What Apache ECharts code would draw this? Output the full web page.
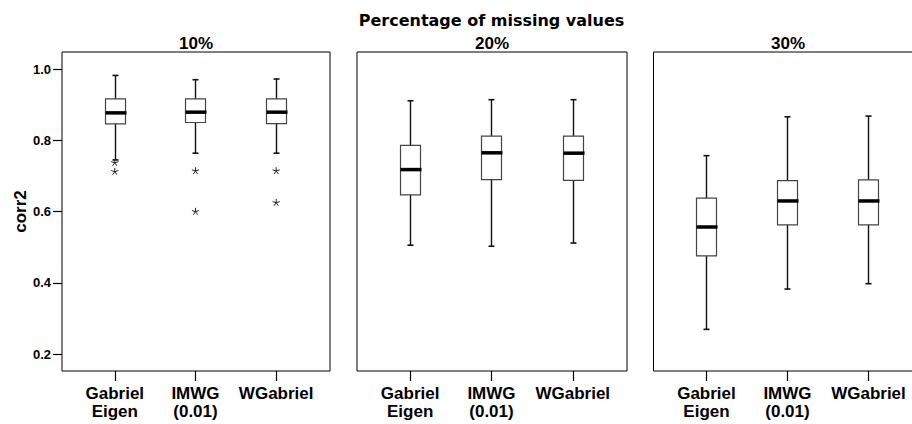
<!DOCTYPE html>
<html>
<head>
<meta charset="utf-8">
<script src="https://cdn.jsdelivr.net/npm/echarts@6/dist/echarts.min.js"></script>
<style>
html,body{margin:0;padding:0;background:#fff;}
#chart{width:912px;height:424px;}
</style>
</head>
<body>
<div id="chart"></div>
<script>
// ---- data ----
const mainTitle = 'Percentage of missing values';
const panels = ['10%', '20%', '30%'];
const categories = ['Gabriel\nEigen', 'IMWG\n(0.01)', 'WGabriel'];
const yTicks = [0.2, 0.4, 0.6, 0.8, 1.0];
const yName = 'corr2';
// [min, Q1, median, Q3, max] per category
const stats10 = [
  [0.745, 0.846, 0.877, 0.916, 0.982],
  [0.764, 0.850, 0.879, 0.916, 0.970],
  [0.764, 0.847, 0.879, 0.916, 0.972]
];
const stats20 = [
  [0.506, 0.647, 0.718, 0.786, 0.911],
  [0.503, 0.690, 0.765, 0.812, 0.914],
  [0.512, 0.688, 0.764, 0.812, 0.914]
];
const stats30 = [
  [0.270, 0.476, 0.557, 0.638, 0.757],
  [0.383, 0.563, 0.630, 0.687, 0.866],
  [0.398, 0.563, 0.630, 0.689, 0.868]
];
// outliers per category
const outliers10 = [[0.737, 0.712], [0.714, 0.600], [0.714, 0.625]];
const outliers20 = [[], [], []];
const outliers30 = [[], [], []];

const allStats = [stats10, stats20, stats30];
const allOutliers = [outliers10, outliers20, outliers30];

// ---- layout ----
const gridDefs = [
  {left: 62, width: 268},
  {left: 357, width: 270},
  {left: 653.5, width: 269}
];
const gridTop = 52, gridHeight = 319;
const yMin = 0.1532, yMax = 1.0477;
const xMin = 0.346, xMax = 3.667;
const FONT = '"Liberation Sans", Arial, sans-serif';

function renderBox(params, api) {
  const x = api.value(0);
  const lo = api.coord([x, api.value(1)]);
  const q1 = api.coord([x, api.value(2)]);
  const md = api.coord([x, api.value(3)]);
  const q3 = api.coord([x, api.value(4)]);
  const hi = api.coord([x, api.value(5)]);
  const cx = Math.round(lo[0]) + 0.5;
  const hw = 10, cw = 3;
  const ws = {stroke: '#111', lineWidth: 1.4};
  return {
    type: 'group',
    children: [
      {type: 'line', shape: {x1: cx, y1: q1[1], x2: cx, y2: lo[1]}, style: ws},
      {type: 'line', shape: {x1: cx, y1: q3[1], x2: cx, y2: hi[1]}, style: ws},
      {type: 'line', shape: {x1: cx - cw, y1: lo[1], x2: cx + cw, y2: lo[1]}, style: {stroke: '#111', lineWidth: 1.6}},
      {type: 'line', shape: {x1: cx - cw, y1: hi[1], x2: cx + cw, y2: hi[1]}, style: {stroke: '#111', lineWidth: 1.6}},
      {type: 'rect', shape: {x: cx - hw, y: q3[1], width: 2 * hw, height: q1[1] - q3[1]}, style: {fill: '#fff', stroke: '#444', lineWidth: 1.2}},
      {type: 'line', shape: {x1: cx - hw, y1: md[1], x2: cx + hw + 1, y2: md[1]}, style: {stroke: '#000', lineWidth: 3.5}}
    ]
  };
}

function renderStar(params, api) {
  const p = api.coord([api.value(0), api.value(1)]);
  const r = 3.8;
  const angles = [-90, -18, 54, 126, 198];
  return {
    type: 'group',
    children: angles.map(a => {
      const t = a * Math.PI / 180;
      return {type: 'line', shape: {x1: p[0], y1: p[1], x2: p[0] + r * Math.cos(t), y2: p[1] + r * Math.sin(t)}, style: {stroke: '#222', lineWidth: 1}};
    })
  };
}

const grids = [], xAxes = [], yAxes = [], series = [], graphics = [];
panels.forEach((pname, pi) => {
  const g = gridDefs[pi];
  grids.push({left: g.left, width: g.width, top: gridTop, height: gridHeight, show: true,
    containLabel: false, outerBoundsMode: 'none',
    borderColor: '#000', borderWidth: 1, backgroundColor: 'transparent'});
  xAxes.push({
    type: 'value', gridIndex: pi, min: xMin, max: xMax,
    splitLine: {show: false}, axisLine: {show: false},
    axisTick: {show: true, length: 10, customValues: [1, 2, 3], lineStyle: {color: '#000', width: 1.2}},
    axisLabel: {show: true, customValues: [1, 2, 3], margin: 14,
      formatter: v => categories[Math.round(v) - 1] || '',
      fontFamily: FONT, fontWeight: 'bold', fontSize: 17, lineHeight: 17.5, color: '#000'}
  });
  yAxes.push({
    type: 'value', gridIndex: pi, min: yMin, max: yMax,
    splitLine: {show: false}, axisLine: {show: false},
    name: pi === 0 ? yName : '', nameLocation: 'middle', nameGap: 33,
    nameTextStyle: {fontFamily: FONT, fontWeight: 'bold', fontSize: 17, color: '#000'},
    axisTick: {show: pi === 0, length: 9, customValues: yTicks, lineStyle: {color: '#000', width: 1.2}},
    axisLabel: {show: pi === 0, customValues: yTicks, margin: 11,
      formatter: v => v.toFixed(1),
      fontFamily: FONT, fontWeight: 'bold', fontSize: 13, color: '#000'}
  });
  const stats = allStats[pi];
  series.push({
    type: 'custom', xAxisIndex: pi, yAxisIndex: pi,
    renderItem: renderBox,
    encode: {x: 0, y: [1, 2, 3, 4, 5]},
    data: stats.map((s, i) => [i + 1].concat(s)),
    silent: true
  });
  const outl = [];
  allOutliers[pi].forEach((arr, i) => arr.forEach(v => outl.push([i + 1, v])));
  series.push({
    type: 'custom', xAxisIndex: pi, yAxisIndex: pi,
    renderItem: renderStar,
    encode: {x: 0, y: 1},
    data: outl,
    silent: true
  });
  graphics.push({
    type: 'text', x: g.left + g.width / 2, y: 43,
    style: {text: pname, fill: '#000', font: 'bold 17px ' + FONT, textAlign: 'center', textVerticalAlign: 'middle'}
  });
});
graphics.push({
  type: 'text', x: 491.5, y: 20,
  style: {text: mainTitle, fill: '#000', font: 'bold 16px "DejaVu Sans", sans-serif', textAlign: 'center', textVerticalAlign: 'middle'}
});

const chart = echarts.init(document.getElementById('chart'), null, {renderer: 'svg', width: 912, height: 424});
chart.setOption({
  animation: false,
  backgroundColor: '#fff',
  grid: grids,
  xAxis: xAxes,
  yAxis: yAxes,
  series: series,
  graphic: graphics
});
</script>
</body>
</html>
